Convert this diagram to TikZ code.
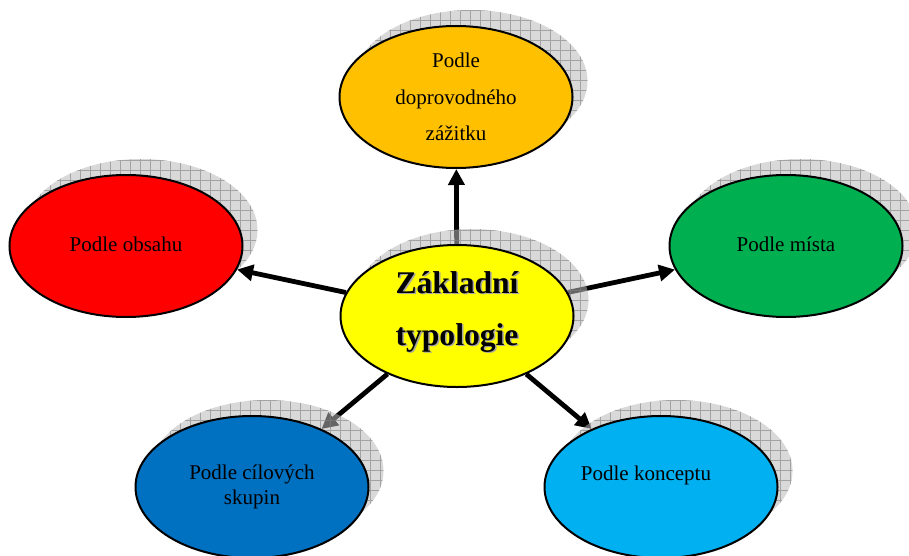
\documentclass[tikz,border=0pt]{standalone}
\usepackage{fontspec}
\setmainfont{Liberation Serif}
\usepackage{xcolor}
\usetikzlibrary{arrows.meta, positioning, shapes.geometric}

\definecolor{cYellow}{HTML}{FFFF00}
\definecolor{cOrange}{HTML}{FFC000}
\definecolor{cRed}{HTML}{FF0000}
\definecolor{cGreen}{HTML}{00B050}
\definecolor{cBlue}{HTML}{0070C0}
\definecolor{cSky}{HTML}{00B0F0}

\pgfdeclarelayer{arrowlayer}
\pgfdeclarelayer{shadowlayer}
\pgfsetlayers{arrowlayer,shadowlayer,main}

\begin{document}
\begin{tikzpicture}[x=0.5pt, y=-0.5pt,
  bubble/.style={draw, ellipse, line width=1pt, minimum width=116.5pt,
                 minimum height=71pt, inner sep=0pt, align=center,
                 font=\fontsize{10.5}{12.5}\selectfont},
  core/.style={font=\fontsize{15.8}{26}\selectfont\bfseries, align=center},
  arr/.style={-{Triangle[length=8pt,width=8pt]}, line width=2.4pt}
]
\useasboundingbox (0,0) rectangle (909,556);

% Centre
\node[bubble, fill=cYellow] (zaklad) at (457,316) {};
\node[core, text=gray!70] (zakstin) at ([shift={(1.5,-2.5)}]zaklad.center) {Základní\\typologie};
\node[core] (zaktext) at ([yshift=2pt]zaklad.center) {Základní\\typologie};

% Surrounding
\node[bubble, fill=cOrange, font=\fontsize{10.5}{18.25}\selectfont] (zazitek) at (456,97)
  {Podle\\doprovodného\\zážitku};
\node[bubble, fill=cRed] (obsah) at (126,246) {\raisebox{2pt}{Podle obsahu}};
\node[bubble, fill=cGreen] (misto) at (786,246) {\raisebox{2pt}{Podle místa}};
\node[bubble, fill=cBlue] (skupiny) at (252,487) {Podle cílových\\skupin};
\node[bubble, fill=cSky] (koncept) at (661,487) {};
\node[font=\fontsize{10.5}{12.5}\selectfont] (konctext) at ([shift={(-15,-12)}]koncept.center)
  {Podle konceptu};

% Arrows
\begin{pgfonlayer}{arrowlayer}
\foreach \t in {zazitek, obsah, misto, skupiny, koncept}
  \draw[arr] (zaklad) -- (\t);
\end{pgfonlayer}

% Shadows
\begin{pgfonlayer}{shadowlayer}
\foreach \n in {zaklad, zazitek, obsah, misto, skupiny, koncept} {
  \begin{scope}
    \clip ([shift={(15,-16)}]\n.center) ellipse (58.25pt and 35.5pt);
    \fill[gray!55, fill opacity=0.55] ([shift={(-110,-90)}]\n.center) rectangle ([shift={(140,60)}]\n.center);
    \draw[gray, draw opacity=0.6, line width=0.3pt, step=5pt] ([shift={(-110,-90)}]\n.center) grid ([shift={(140,60)}]\n.center);
  \end{scope}
}
\end{pgfonlayer}
\end{tikzpicture}
\end{document}
